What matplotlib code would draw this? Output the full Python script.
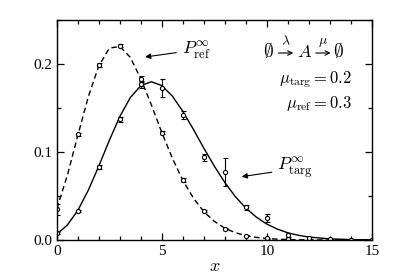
import numpy as np
import matplotlib
matplotlib.use("Agg")
import matplotlib.pyplot as plt
from matplotlib.ticker import MultipleLocator

plt.rcParams['font.family'] = ['Liberation Serif', 'DejaVu Serif']
plt.rcParams['mathtext.fontset'] = 'cm'

# smooth curves
curve_x = [0, 0.5, 1, 1.5, 2, 2.5, 3, 3.5, 4, 4.5, 5, 5.5, 6, 6.5, 7, 7.5,
           8, 8.5, 9, 9.5, 10, 10.5, 11, 11.5, 12, 13, 14, 15]
ref_curve = [0.0357, 0.0735, 0.119, 0.163, 0.198, 0.218, 0.220, 0.2075, 0.183,
             0.1536, 0.122, 0.093, 0.0677, 0.0478, 0.0322, 0.0212, 0.0134,
             0.0083, 0.0050, 0.0030, 0.0017, 0.0010, 0.0005, 0.0003, 0.00014,
             0.00004, 0.00001, 0.0]
targ_curve = [0.0067, 0.0170, 0.0337, 0.0567, 0.0842, 0.1133, 0.1404, 0.1619,
              0.1755, 0.1799, 0.1755, 0.1635, 0.1462, 0.1258, 0.1044, 0.0839,
              0.0653, 0.0493, 0.0363, 0.0260, 0.0181, 0.0124, 0.0082, 0.0054,
              0.0034, 0.0013, 0.0005, 0.00016]

# sampled points with error bars
pts_x = np.arange(16)
ref_pts = [0.035, 0.120, 0.199, 0.221, 0.183, 0.122, 0.068, 0.033, 0.013,
           0.005, 0.002, 0.001, 0.0004, 0.0001, 0.0, 0.0]
ref_err = [0.006, 0.002, 0.002, 0.002, 0.003, 0.002, 0.002, 0.001, 0.001,
           0.0005, 0.0005, 0.0, 0.0, 0.0, 0.0, 0.0]
targ_pts = [0.008, 0.033, 0.083, 0.137, 0.177, 0.173, 0.142, 0.094, 0.077,
            0.037, 0.025, 0.006, 0.002, 0.001, 0.0003, 0.0001]
targ_err = [0.001, 0.001, 0.002, 0.003, 0.004, 0.010, 0.005, 0.004, 0.016,
            0.003, 0.005, 0.002, 0.001, 0.0, 0.0, 0.0]

fig = plt.figure(figsize=(4.15, 2.74), dpi=100)
ax = fig.add_axes([0.137, 0.124, 0.759, 0.803])

ax.plot(curve_x, ref_curve, color='black', lw=1.0, ls=(0, (4, 2.5)))
ax.plot(curve_x, targ_curve, color='black', lw=1.0)

mk = dict(fmt='o', ms=3.0, mfc='white', mec='black', mew=0.8,
          ecolor='black', elinewidth=0.8, capsize=1.8, capthick=0.8)
ax.errorbar(pts_x, ref_pts, yerr=ref_err, **mk)
ax.errorbar(pts_x, targ_pts, yerr=targ_err, **mk)

ax.set_xlim(0, 15)
ax.set_ylim(0, 0.25)
ax.xaxis.set_major_locator(MultipleLocator(5))
ax.xaxis.set_minor_locator(MultipleLocator(1))
ax.yaxis.set_major_locator(MultipleLocator(0.1))
ax.yaxis.set_minor_locator(MultipleLocator(0.05))
ax.tick_params(which='both', direction='in', top=True, right=True,
               labelsize=11, width=0.9)
ax.tick_params(which='major', length=5)
ax.tick_params(which='minor', length=3)
ax.set_yticks([0.0, 0.1, 0.2])
ax.set_yticklabels(['0.0', '0.1', '0.2'])
for s in ax.spines.values():
    s.set_linewidth(1.0)

ax.set_xlabel('$x$', fontsize=13, labelpad=0)

ax.annotate(r'$P^{\infty}_{\mathrm{ref}}$', xy=(4.2, 0.208), xytext=(5.95, 0.216),
            fontsize=13, va='center', ha='left',
            arrowprops=dict(arrowstyle='-|>', color='black', lw=0.8,
                            mutation_scale=8, shrinkA=2, shrinkB=0))
ax.annotate(r'$P^{\infty}_{\mathrm{targ}}$', xy=(8.8, 0.072), xytext=(10.5, 0.081),
            fontsize=13, va='center', ha='left',
            arrowprops=dict(arrowstyle='-|>', color='black', lw=0.8,
                            mutation_scale=8, shrinkA=2, shrinkB=0))

# reaction scheme: symbols as text, reaction arrows drawn, rates on top
base = 0.2075
arrow_y = 0.2125
fs = 14
ax.text(9.82, base, r'$\emptyset$', fontsize=fs, ha='left', va='baseline')
ax.text(11.45, base, r'$A$', fontsize=13, ha='left', va='baseline')
ax.text(13.14, base, r'$\emptyset$', fontsize=fs, ha='left', va='baseline')
for x0, x1, lab in [(10.55, 11.26, r'$\lambda$'), (12.33, 13.04, r'$\mu$')]:
    ax.annotate('', xy=(x1, arrow_y), xytext=(x0, arrow_y),
                arrowprops=dict(arrowstyle='->', color='black', lw=0.8,
                                mutation_scale=8, shrinkA=0, shrinkB=0))
    ax.text((x0 + x1) / 2, 0.2175, lab, fontsize=10, ha='center', va='bottom')

ax.text(14.05, 0.182, r'$\mu_{\mathrm{targ}} = 0.2$', fontsize=12, ha='right', va='center')
ax.text(14.05, 0.155, r'$\mu_{\mathrm{ref}} = 0.3$', fontsize=12, ha='right', va='center')

fig.savefig('out.png', dpi=100)
